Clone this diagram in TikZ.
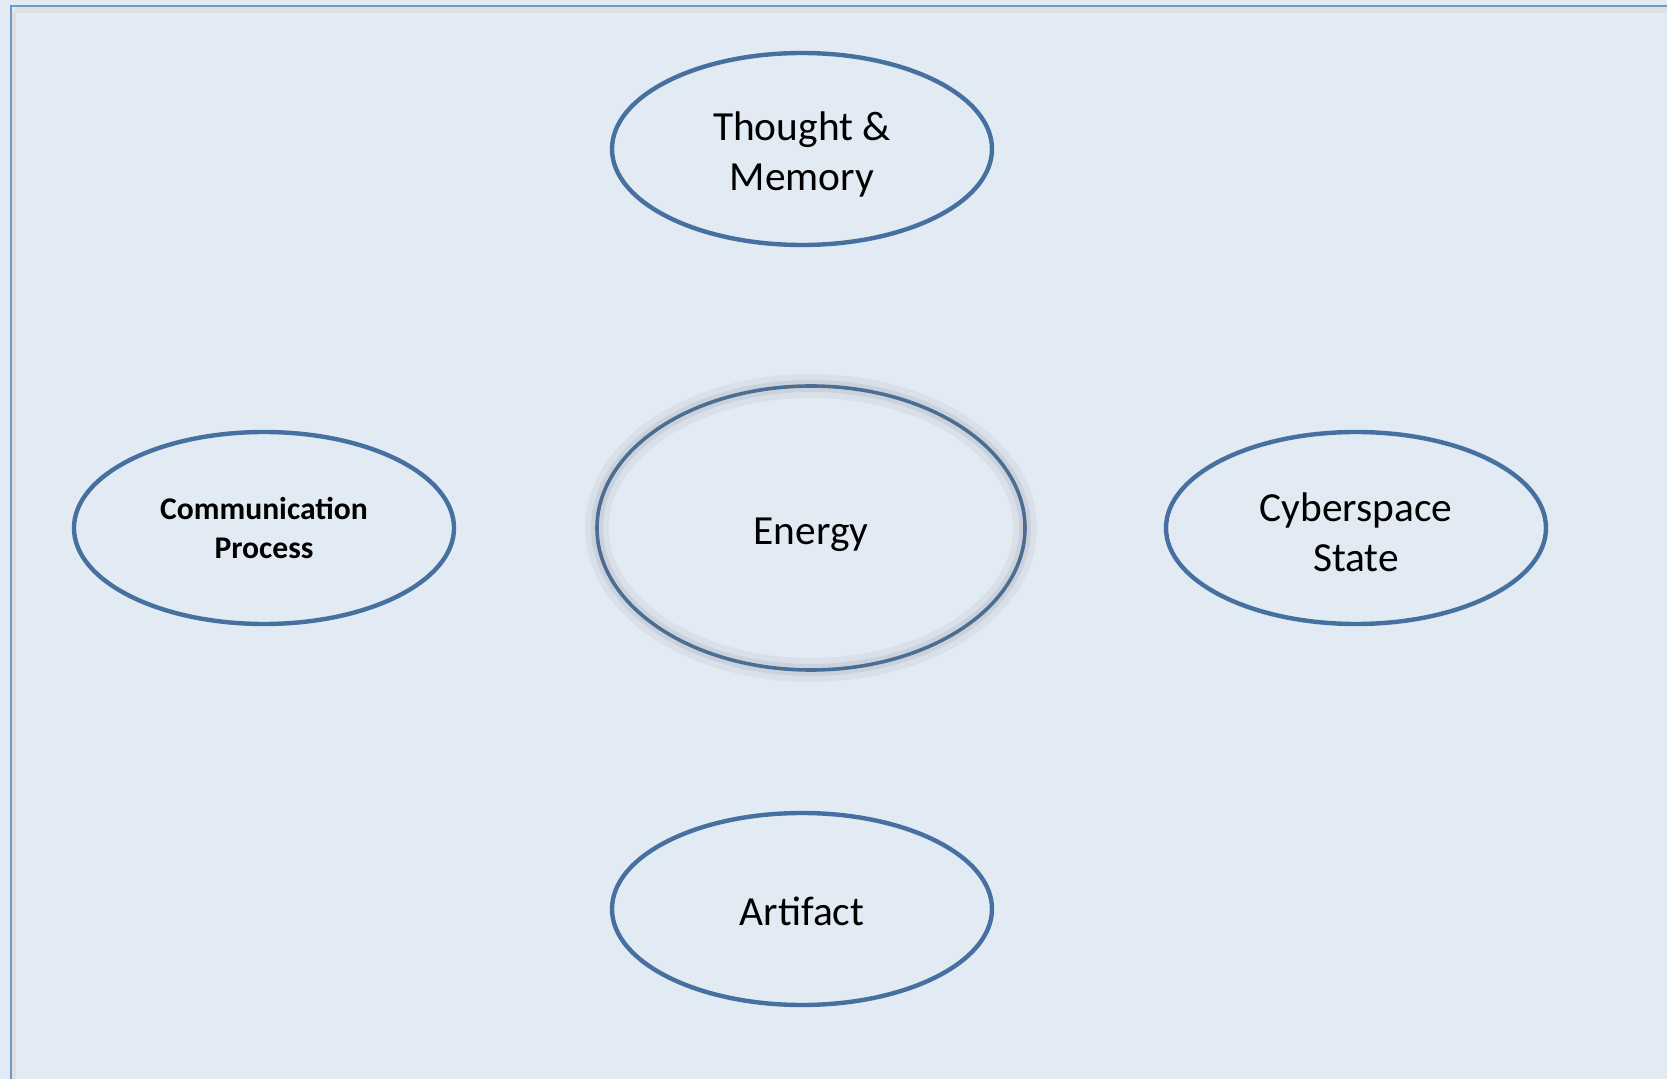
\documentclass[tikz,border=0pt]{standalone}
\usepackage{fontspec}
\setmainfont{Carlito}
\usetikzlibrary{shapes.geometric, positioning}
\definecolor{bgblue}{HTML}{E2EAF4}
\definecolor{framecol}{HTML}{6A9BD0}
\definecolor{ringcol}{HTML}{46709F}

\tikzset{
  topic/.style={ellipse, draw=ringcol, line width=2.2pt, inner sep=0pt,
    minimum width=190pt, minimum height=96pt, align=center,
    font=\fontsize{20.7}{25}\selectfont, text depth=0pt},
  hub/.style={topic, minimum width=214pt, minimum height=142pt, line width=1.8pt,
    preaction={draw=black, opacity=0.04, line width=12pt},
    preaction={draw=black, opacity=0.06, line width=6pt},
    postaction={draw=black!60, line width=0.3pt}},
  small/.style={font=\bfseries\fontsize{15.8}{19.6}\selectfont}
}

\begin{document}
\begin{tikzpicture}[x=0.5pt,y=-0.5pt,on grid]
\useasboundingbox (0,0) rectangle (1667,1079);
\fill[bgblue] (0,0) rectangle (1667,1079);

% frame
\begin{scope}
\clip (0,0) rectangle (1667,1079);
\draw[black!12, line width=3pt] (15,10) -- (1700,10);
\draw[black!12, line width=2pt] (14,12) -- (14,1100);
\draw[framecol, line width=1.3pt] (11,1100) |- (1700,6);
\end{scope}

\node[hub, text height=16.5pt] (energy) at (811,528) {Energy};
\node[topic, text height=41.2pt] (thought) [above=189.5pt of energy, xshift=-4.5pt] {Thought \&\\Memory};
\node[topic, text height=16.5pt] (artifact) [below=190.5pt of energy, xshift=-4.5pt] {Artifact};
\node[topic, small] (comm) [left=273.5pt of energy] {Communication\\Process};
\node[topic, text height=43.7pt] (cyber) [right=272.5pt of energy] {Cyberspace\\State};
\end{tikzpicture}
\end{document}
